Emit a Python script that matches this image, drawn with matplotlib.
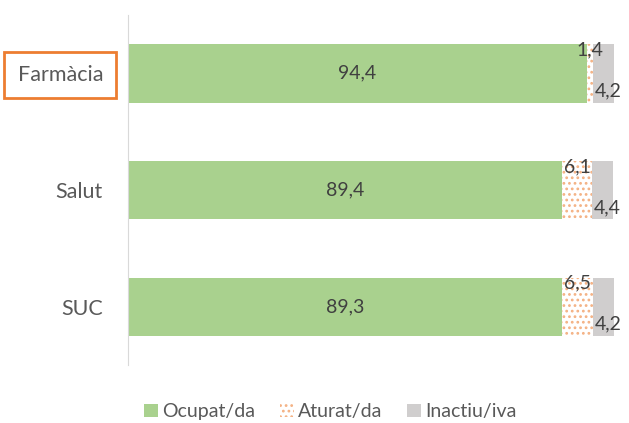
import matplotlib.pyplot as plt
from matplotlib.patches import Patch

plt.rcParams['font.family'] = ['Lato', 'DejaVu Sans']
plt.rcParams['hatch.linewidth'] = 1.2

categories = ["Farmàcia", "Salut", "SUC"]
ocupat = [94.4, 89.4, 89.3]
aturat = [1.4, 6.1, 6.5]
inactiu = [4.2, 4.4, 4.2]
labels_ocupat = ["94,4", "89,4", "89,3"]
labels_aturat = ["1,4", "6,1", "6,5"]
labels_inactiu = ["4,2", "4,4", "4,2"]

green = "#A9D18E"
orange = "#F4B183"
gray = "#D0CECE"
txt = "#404040"

fig = plt.figure(figsize=(6.29, 4.23), dpi=100)
ax = fig.add_axes([0.2035, 0.137, 0.7725, 0.8275])

y = list(range(len(categories)))
h = 0.5
ax.barh(y, ocupat, height=h, color=green)
left2 = ocupat
ax.barh(y, aturat, left=left2, height=h, color="white", edgecolor=orange,
        hatch="...", linewidth=0)
left3 = [a + b for a, b in zip(ocupat, aturat)]
ax.barh(y, inactiu, left=left3, height=h, color=gray)

fs = 14
for i in y:
    ax.text(ocupat[i] / 2, i, labels_ocupat[i], ha="center", va="center",
            fontsize=fs, color=txt)
    ax.text(left2[i] + aturat[i] / 2, i - 0.2, labels_aturat[i], ha="center",
            va="center", fontsize=fs, color=txt)
    ax.text(left3[i] + inactiu[i] / 2 + 1.0, i + 0.15, labels_inactiu[i],
            ha="center", va="center", fontsize=fs, color=txt)

ax.set_ylim(2.5, -0.5)
ax.set_xlim(0, 100)
ax.set_yticks(y)
ax.set_yticklabels(categories, fontsize=15.5, color="#595959")
ax.tick_params(axis="y", length=0, pad=18)
ax.set_xticks([])
for s in ["top", "right", "bottom"]:
    ax.spines[s].set_visible(False)
ax.spines["left"].set_color("#D9D9D9")

ax.get_yticklabels()[0].set_bbox(dict(facecolor="white", edgecolor="#ED7D31",
                                      linewidth=2, pad=9.5))

handles = [Patch(facecolor=green), Patch(facecolor="white", edgecolor=orange, hatch="...", linewidth=0),
           Patch(facecolor=gray)]
fig.legend(handles, ["Ocupat/da", "Aturat/da", "Inactiu/iva"], loc="lower center",
           ncol=3, frameon=False, fontsize=fs, handlelength=0.7, handleheight=0.7,
           handletextpad=0.2, columnspacing=1.3, labelcolor="#595959",
           bbox_to_anchor=(0.525, -0.035))

fig.savefig("out.png", dpi=100)
